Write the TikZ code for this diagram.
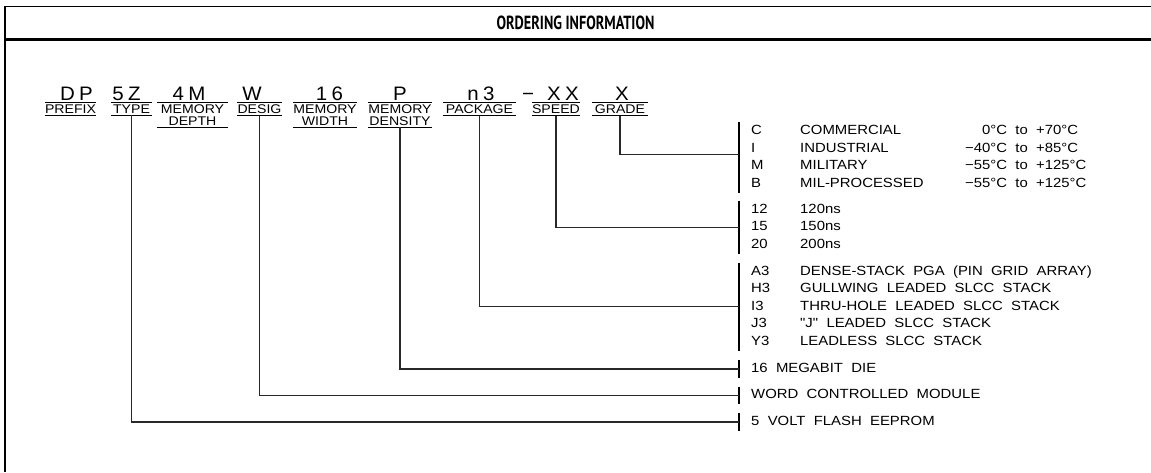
\documentclass[tikz,border=0pt]{standalone}
\usepackage{fontspec}
\usepackage{xcolor}
\usepackage{tikz}
\usetikzlibrary{calc,positioning}
\newfontfamily\cadfont[FakeStretch=1.12,WordSpace=2]{Liberation Sans}
\newfontfamily\codefont[FakeStretch=1.05,LetterSpace=22]{Liberation Sans}
\newfontfamily\titlefont[FakeStretch=0.75]{PT Sans}
\definecolor{inkline}{RGB}{40,40,40}
\tikzset{
  frameline/.style={line width=1.6pt},
  headline/.style={line width=3.2pt},
  codetxt/.style={font=\codefont\fontsize{19.5}{21}\selectfont, inner sep=0pt, anchor=base},
  fieldlbl/.style={font=\cadfont\fontsize{12.6}{11.5}\selectfont, inner xsep=0pt, inner ysep=1.8pt, align=center, anchor=north},
  ruleline/.style={line width=0.9pt},
  lead/.style={line width=1.1pt, draw=inkline},   % label to option group
  tickmark/.style={line width=1.1pt},
  optblock/.style={font=\cadfont\fontsize{13.3}{17.5}\selectfont, inner sep=0pt, anchor=north west},
  titletxt/.style={font=\titlefont\bfseries\fontsize{19}{22}\selectfont, inner sep=0pt}
}
\newcommand{\DrawFrame}{%
  \draw[frameline] (5,472) -- (5,6.5) -- (1151,6.5);
  \draw[headline] (4.2,39.7) -- (1151,39.7);
}

\begin{document}
\begin{tikzpicture}[x=1pt,y=-1pt]
  \useasboundingbox (0,0) rectangle (1151,472);
  \DrawFrame
  \node[titletxt] (title) at (575.5,23) {ORDERING INFORMATION};
  % part number fields: name/code x/code/label x/label width/label
  \foreach \nm/\cx/\cd/\lx/\lw/\lb in {
      prefix/76.5/DP/70.5/47/PREFIX,
      type/126.5/5Z/131.5/41/TYPE,
      mdepth/189/4M/192.5/71/{MEMORY\\DEPTH},
      desig/252/W/259.5/43/DESIG,
      mwidth/329.5/16/325/64/{MEMORY\\WIDTH},
      mdens/400/P/400/64/{MEMORY\\DENSITY},
      package/481/n3/479.5/73/PACKAGE,
      speed/563/XX/556/42/SPEED,
      grade/622/X/620/56/GRADE}{
    \node[codetxt] (c-\nm) at (\cx,100) {\cd};
    \node[fieldlbl, minimum width=\lw] (\nm) at (\lx,102.7) {\lb};
    \draw[ruleline] (\nm.north west) -- (\nm.north east);
    \draw[ruleline] (\nm.south west) -- (\nm.south east);
  }
  \node[codetxt] (c-dash) at (528,100) {−};
  % option groups
  \node[optblock] (grades) at (739,122.25) {%
    \begin{tabular}{@{\hspace{12pt}}p{49pt}@{}p{165pt}@{}l@{}}
      C & COMMERCIAL    & \phantom{−4}0°C to +70°C\\
      I & INDUSTRIAL    & −40°C to +85°C\\
      M & MILITARY      & −55°C to +125°C\\
      B & MIL-PROCESSED & −55°C to +125°C
    \end{tabular}};
  \node[optblock] (speeds) at (739,200.75) {%
    \begin{tabular}{@{\hspace{12pt}}p{49pt}@{}l@{}}
      12 & 120ns\\
      15 & 150ns\\
      20 & 200ns
    \end{tabular}};
  \node[optblock] (pkgs) at (739,262.75) {%
    \begin{tabular}{@{\hspace{12pt}}p{49pt}@{}l@{}}
      A3 & DENSE-STACK PGA (PIN GRID ARRAY)\\
      H3 & GULLWING LEADED SLCC STACK\\
      I3 & THRU-HOLE LEADED SLCC STACK\\
      J3 & \char"22J\char"22{} LEADED SLCC STACK\\
      Y3 & LEADLESS SLCC STACK
    \end{tabular}};
  \node[optblock] (die) at (739,360) {%
    \begin{tabular}{@{\hspace{12pt}}l@{}}16 MEGABIT DIE\end{tabular}};
  \node[optblock] (word) at (739,386.5) {%
    \begin{tabular}{@{\hspace{12pt}}l@{}}WORD CONTROLLED MODULE\end{tabular}};
  \node[optblock] (volt) at (739,413) {%
    \begin{tabular}{@{\hspace{12pt}}l@{}}5 VOLT FLASH EEPROM\end{tabular}};
  \foreach \blk in {grades,speeds,pkgs,die,word,volt}
    \draw[tickmark] (\blk.north west) -- (\blk.south west);
  % leads from labels
  \draw[lead] (grade.south) |- ([yshift=3pt]grades.west);
  \draw[lead] (speed.south) |- (speeds.west);
  \draw[lead] (package.south) |- (pkgs.west);
  \draw[lead] (mdens.south) |- (die.west);
  \draw[lead] (desig.south) |- (word.west);
  \draw[lead] (type.south) |- (volt.west);
\end{tikzpicture}
\end{document}
